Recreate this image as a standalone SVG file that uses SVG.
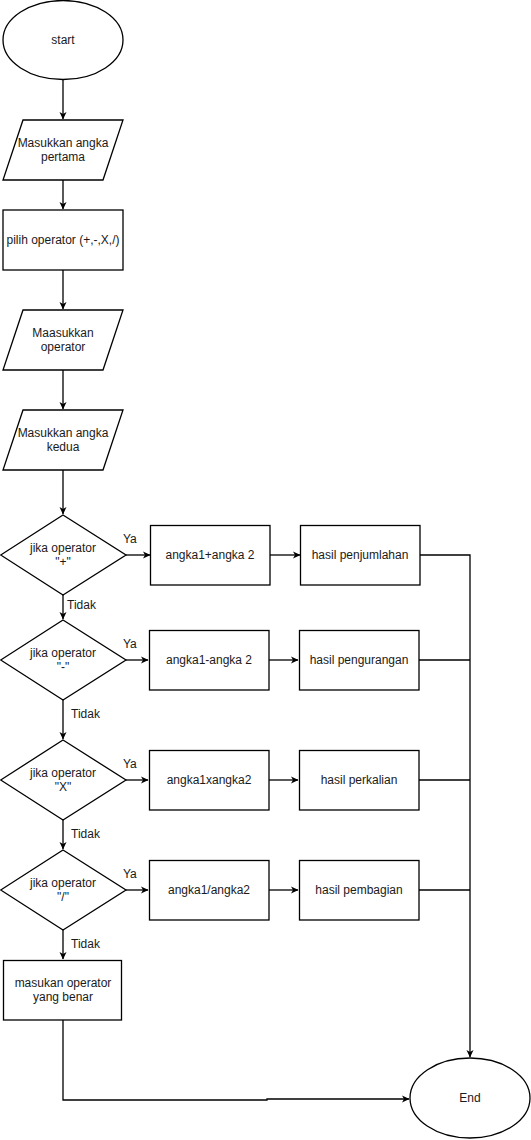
<svg xmlns="http://www.w3.org/2000/svg" width="531" height="1140" viewBox="0 0 531 1140">
  <style>
    .shape { fill: #ffffff; stroke: #000000; stroke-width: 1.3; }
    .edge { fill: none; stroke: #000000; stroke-width: 1.3; }
    .arrow { marker-end: url(#arrowhead); }
    text { font-family: "Liberation Sans", Arial, sans-serif; font-size: 12px; fill: #1a1a1a; text-anchor: middle; dominant-baseline: central; }
    .lbl { text-anchor: start; }
  </style>
  <defs>
    <marker id="arrowhead" markerWidth="8" markerHeight="8" refX="7" refY="4" orient="auto" markerUnits="userSpaceOnUse">
      <path d="M0,0.5 L7.5,4 L0,7.5 L2,4 Z" fill="#000000"/>
    </marker>
  </defs>
  <rect width="531" height="1140" fill="#ffffff"/>

  <!-- connectors -->
  <g id="connectors">
    <path class="edge arrow" d="M63,80 V119"/>
    <path class="edge arrow" d="M63,180 V209"/>
    <path class="edge arrow" d="M63,270 V309"/>
    <path class="edge arrow" d="M63,370 V409"/>
    <path class="edge arrow" d="M63,470 V514"/>
    <path class="edge arrow" d="M126,555 H150"/>
    <path class="edge arrow" d="M270,555 H300"/>
    <path class="edge arrow" d="M63,595 V619"/>
    <path class="edge arrow" d="M126,660 H148"/>
    <path class="edge arrow" d="M269,660 H298"/>
    <path class="edge arrow" d="M63,700 V739"/>
    <path class="edge arrow" d="M126,780 H148"/>
    <path class="edge arrow" d="M269,780 H298"/>
    <path class="edge arrow" d="M63,820 V849"/>
    <path class="edge arrow" d="M126,890 H148"/>
    <path class="edge arrow" d="M269,890 H298"/>
    <path class="edge arrow" d="M63,930 V959"/>
    <!-- results merge into End -->
    <path class="edge arrow" d="M420,555 H470 V1057"/>
    <path class="edge" d="M419,660 H470"/>
    <path class="edge" d="M419,780 H470"/>
    <path class="edge" d="M419,890 H470"/>
    <path class="edge arrow" d="M63,1020 V1100 H267 V1099 H409"/>
    <text class="lbl" x="123" y="539">Ya</text>
    <text class="lbl" x="123" y="644">Ya</text>
    <text class="lbl" x="123" y="764">Ya</text>
    <text class="lbl" x="123" y="874">Ya</text>
    <text class="lbl" x="67" y="605">Tidak</text>
    <text class="lbl" x="71" y="714">Tidak</text>
    <text class="lbl" x="71" y="834">Tidak</text>
    <text class="lbl" x="71" y="944">Tidak</text>
  </g>

  <g id="start">
    <ellipse class="shape" cx="63" cy="40" rx="60" ry="39.5"/>
    <text x="63" y="40">start</text>
  </g>

  <g id="input-first">
    <polygon class="shape" points="23,120 123,120 103,180 3,180"/>
    <text x="63" y="143">Masukkan angka</text>
    <text x="63" y="157">pertama</text>
  </g>

  <g id="choose-operator">
    <rect class="shape" x="3" y="210" width="120" height="60"/>
    <text x="63" y="240">pilih operator (+,-,X,/)</text>
  </g>

  <g id="input-operator">
    <polygon class="shape" points="23,310 123,310 103,370 3,370"/>
    <text x="63" y="333">Maasukkan</text>
    <text x="63" y="347">operator</text>
  </g>

  <g id="input-second">
    <polygon class="shape" points="23,410 123,410 103,470 3,470"/>
    <text x="63" y="433">Masukkan angka</text>
    <text x="63" y="447">kedua</text>
  </g>

  <g id="if-plus">
    <polygon class="shape" points="63,515 126,555 63,595 0.7,555"/>
    <text x="63" y="548">jika operator</text>
    <text x="63" y="562">"+"</text>
  </g>
  <g id="calc-plus">
    <rect class="shape" x="150.5" y="525.5" width="119.5" height="59.5"/>
    <text x="210" y="555">angka1+angka 2</text>
  </g>
  <g id="result-plus">
    <rect class="shape" x="300.5" y="525.5" width="119.5" height="59.5"/>
    <text x="360" y="555">hasil penjumlahan</text>
  </g>

  <g id="if-minus">
    <polygon class="shape" points="63,620 126,660 63,700 0.7,660"/>
    <text x="63" y="653">jika operator</text>
    <text x="63" y="667">"-"</text>
  </g>
  <g id="calc-minus">
    <rect class="shape" x="149.5" y="630.5" width="119.5" height="59.5"/>
    <text x="209" y="660">angka1-angka 2</text>
  </g>
  <g id="result-minus">
    <rect class="shape" x="299.5" y="630.5" width="119.5" height="59.5"/>
    <text x="359" y="660">hasil pengurangan</text>
  </g>

  <g id="if-times">
    <polygon class="shape" points="63,740 126,780 63,820 0.7,780"/>
    <text x="63" y="773">jika operator</text>
    <text x="63" y="787">"X"</text>
  </g>
  <g id="calc-times">
    <rect class="shape" x="149.5" y="750.5" width="119.5" height="59.5"/>
    <text x="209" y="780">angka1xangka2</text>
  </g>
  <g id="result-times">
    <rect class="shape" x="299.5" y="750.5" width="119.5" height="59.5"/>
    <text x="359" y="780">hasil perkalian</text>
  </g>

  <g id="if-divide">
    <polygon class="shape" points="63,850 126,890 63,930 0.7,890"/>
    <text x="63" y="883">jika operator</text>
    <text x="63" y="897">"/"</text>
  </g>
  <g id="calc-divide">
    <rect class="shape" x="149.5" y="860.5" width="119.5" height="59.5"/>
    <text x="209" y="890">angka1/angka2</text>
  </g>
  <g id="result-divide">
    <rect class="shape" x="299.5" y="860.5" width="119.5" height="59.5"/>
    <text x="359" y="890">hasil pembagian</text>
  </g>

  <g id="invalid-operator">
    <rect class="shape" x="3.5" y="960.5" width="118" height="59.5"/>
    <text x="63" y="983">masukan operator</text>
    <text x="63" y="997">yang benar</text>
  </g>

  <g id="end">
    <ellipse class="shape" cx="470" cy="1098" rx="60" ry="40"/>
    <text x="470" y="1098">End</text>
  </g>
</svg>
